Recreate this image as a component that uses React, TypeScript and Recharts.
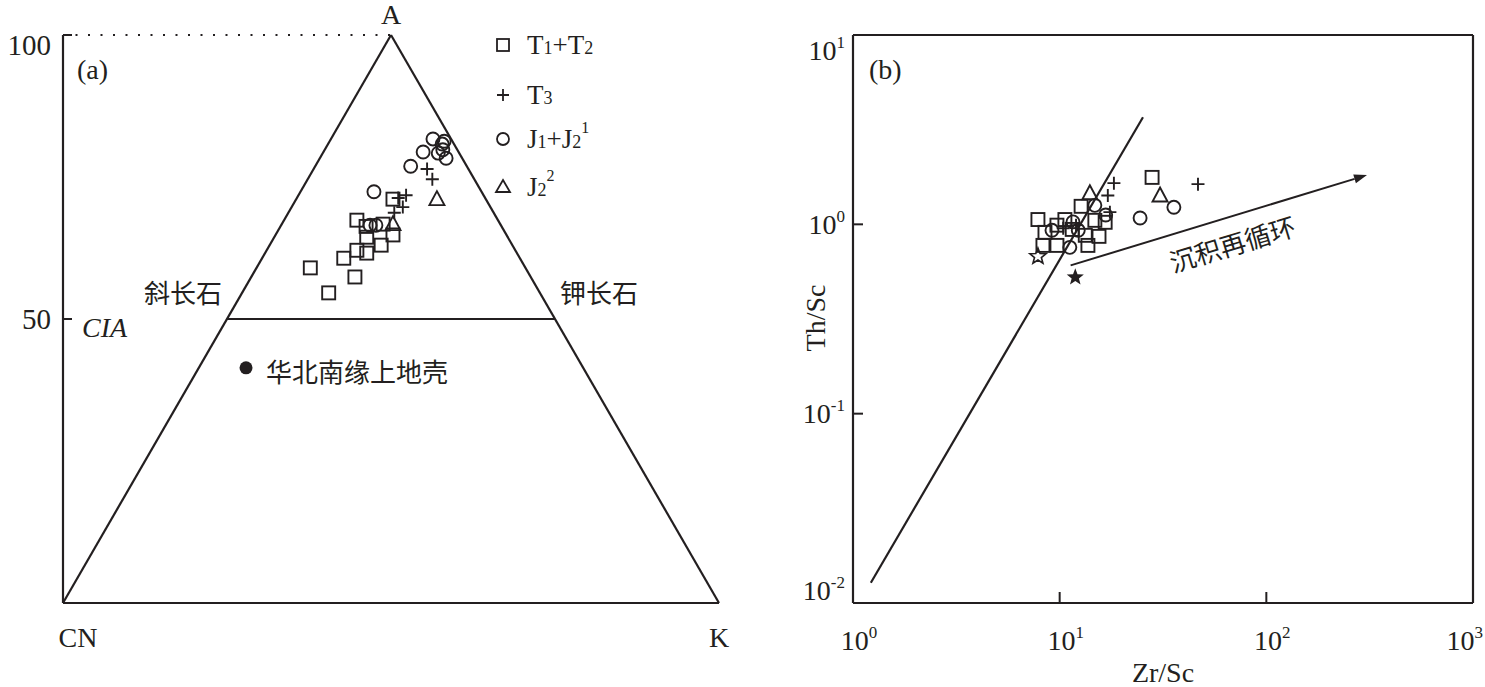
import React from "react";
import { ScatterChart, Scatter, XAxis, YAxis, ReferenceLine, Customized, Legend } from "recharts";

const INK = "#231f20";
const SERIF = '"Liberation Serif", "Times New Roman", serif';
const CJK = '"Noto Sans CJK SC", "Noto Sans CJK JP", sans-serif';

// ---- (a) A-CN-K diagram: x = position along the CN-K base (0..100), y = CIA
const corners = { CN: { x: 0, y: 0 }, A: { x: 50, y: 100 }, K: { x: 100, y: 0 } };
const feldsparJoin = [{ x: 25, y: 50 }, { x: 75, y: 50 }];
const ciaTicks = [50, 100];

const triT12 = [
  [37.7, 59.0], [40.5, 54.6], [44.5, 57.4], [42.8, 60.7], [44.8, 67.4], [46.2, 66.3], [46.3, 64.4],
  [48.5, 63.0], [48.8, 66.7], [50.3, 64.8], [44.8, 62.1], [46.3, 61.6], [50.3, 71.1],
];
const triT3 = [[55.5, 76.4], [56.3, 74.6], [52.3, 71.8], [51.1, 71.3], [51.8, 69.7], [50.5, 68.7]];
const triJ1J21 = [
  [47.4, 72.4], [53.0, 76.9], [54.9, 79.4], [56.4, 81.7], [57.2, 79.2], [57.8, 80.8], [58.1, 81.3],
  [58.4, 78.3], [57.9, 79.8], [46.8, 66.5], [47.7, 66.5],
];
const triJ22 = [[57.0, 71.1], [50.3, 66.7]];
const triUpperCrust = [[27.9, 41.4]];

// ---- (b) Th/Sc vs Zr/Sc
const zrTicks = [1, 10, 100, 1000];
const thTicks = [0.01, 0.1, 1, 10];

const thT12 = [
  [7.85, 1.06], [8.49, 0.907], [8.3, 0.774], [9.7, 0.774], [10.6, 1.06], [12.7, 1.245], [13.7, 0.774],
  [15.5, 0.864], [14.8, 1.05], [16.6, 1.025], [11.5, 0.94], [28.0, 1.77], [9.7, 0.99], [13.3, 0.875],
];
const thT3 = [[18.3, 1.65], [17.1, 1.42], [46.7, 1.63], [17.5, 1.16], [10.4, 0.953], [12.0, 0.99]];
const thJ1J21 = [[9.18, 0.93], [11.2, 0.756], [14.8, 1.26], [16.7, 1.12], [24.5, 1.08], [35.7, 1.23], [11.6, 1.03], [12.3, 0.93]];
const thJ22 = [[14.0, 1.46], [30.6, 1.42]];
const thOpenStar = [[7.85, 0.677]];
const thFilledStar = [[11.9, 0.525]];
const trendLine = [[1.22, 0.0128], [25.3, 3.68]];
const recycleArrow = [[11.3, 0.607], [307, 1.82]];

const pts = (a: number[][]) => a.map(([x, y]) => ({ x, y }));

// markers
const SW = 1.9;
const Square = ({ cx, cy }: any) => <rect x={cx - 6.5} y={cy - 6.5} width={13} height={13} fill="none" stroke={INK} strokeWidth={SW} />;
const Plus = ({ cx, cy }: any) => <path d={`M${cx - 6.5},${cy}H${cx + 6.5}M${cx},${cy - 6.5}V${cy + 6.5}`} stroke={INK} strokeWidth={SW} fill="none" />;
const Ring = ({ cx, cy }: any) => <circle cx={cx} cy={cy} r={6.5} fill="none" stroke={INK} strokeWidth={SW} />;
const Tri = ({ cx, cy }: any) => <path d={`M${cx},${cy - 8}L${cx + 7.5},${cy + 6}L${cx - 7.5},${cy + 6}Z`} fill="none" stroke={INK} strokeWidth={SW} />;
const Dot = ({ cx, cy }: any) => <circle cx={cx} cy={cy} r={6.5} fill={INK} />;

function starPath(cx: number, cy: number, R: number, r: number) {
  let d = "";
  for (let i = 0; i < 10; i++) {
    const rad = i % 2 === 0 ? R : r;
    const a = -Math.PI / 2 + (i * Math.PI) / 5;
    d += (i === 0 ? "M" : "L") + (cx + rad * Math.cos(a)).toFixed(2) + "," + (cy + rad * Math.sin(a)).toFixed(2);
  }
  return d + "Z";
}
const OpenStar = ({ cx, cy }: any) => <path d={starPath(cx, cy, 8.5, 3.6)} fill="none" stroke={INK} strokeWidth={1.6} />;
const FilledStar = ({ cx, cy }: any) => <path d={starPath(cx, cy, 9, 3.8)} fill={INK} />;

// ticks
function CiaTick({ x, y, payload }: any) {
  const v = payload.value;
  return (
    <g>
      <line x1={x} y1={y} x2={x + 9} y2={y} stroke={INK} strokeWidth={2} />
      <text x={x - 12} y={y + (v === 100 ? 10 : 0)} dy="0.35em" textAnchor="end" fontFamily={SERIF} fontSize={29} fill={INK}>{v}</text>
    </g>
  );
}

function ThTick({ x, y, payload }: any) {
  const e = Math.round(Math.log10(payload.value));
  const shift = e === 1 ? 15 : e === -2 ? -13 : 0;
  return (
    <g>
      {(e === 0 || e === -1) && <line x1={x} y1={y} x2={x + 10} y2={y} stroke={INK} strokeWidth={2} />}
      <text x={x - 8} y={y + shift} dy="0.35em" textAnchor="end" fontFamily={SERIF} fontSize={28} fill={INK}>
        10<tspan dy={-12} fontSize={17}>{e}</tspan>
      </text>
    </g>
  );
}

function ZrTick({ x, y, payload }: any) {
  const e = Math.round(Math.log10(payload.value));
  const last = e === 3;
  return (
    <g>
      {(e === 1 || e === 2) && <line x1={x} y1={y} x2={x} y2={y - 11} stroke={INK} strokeWidth={2} />}
      <text x={last ? x + 10 : x + 6} y={y + 47} textAnchor={last ? "end" : "middle"} fontFamily={SERIF} fontSize={28} fill={INK}>
        10<tspan dy={-12} fontSize={17}>{e}</tspan>
      </text>
    </g>
  );
}

function ArrowShape(p: any) {
  const { x1, y1, x2, y2 } = p;
  const dx = x2 - x1, dy = y2 - y1;
  const len = Math.hypot(dx, dy);
  const ux = dx / len, uy = dy / len;
  const hx = x2 - ux * 13, hy = y2 - uy * 13;
  const ang = (Math.atan2(dy, dx) * 180) / Math.PI;
  const t = 0.52;
  const tx = x1 + dx * t - uy * 28, ty = y1 + dy * t + ux * 28;
  return (
    <g>
      <line x1={x1} y1={y1} x2={hx} y2={hy} stroke={INK} strokeWidth={2} />
      <path d={`M${x2},${y2}L${hx - uy * 4.5},${hy + ux * 4.5}L${hx + uy * 4.5},${hy - ux * 4.5}Z`} fill={INK} />
      <text x={tx} y={ty} dy="0.35em" textAnchor="middle" fontFamily={CJK} fontSize={26} fill={INK} transform={`rotate(${ang} ${tx} ${ty})`}>沉积再循环</text>
    </g>
  );
}

const LegendBox = () => (
  <svg width={150} height={190} style={{ overflow: "visible" }}>
    <rect x={2} y={14} width={12} height={12} fill="none" stroke={INK} strokeWidth={1.8} />
    <text x={32} y={29} fontFamily={SERIF} fontSize={27} fill={INK}>
      T<tspan fontSize={18}>1</tspan>+T<tspan fontSize={18}>2</tspan>
    </text>
    <path d="M2,70H14M8,64V76" stroke={INK} strokeWidth={1.8} />
    <text x={32} y={79} fontFamily={SERIF} fontSize={27} fill={INK}>
      T<tspan fontSize={18}>3</tspan>
    </text>
    <circle cx={8} cy={114} r={6} fill="none" stroke={INK} strokeWidth={1.8} />
    <text x={32} y={123} fontFamily={SERIF} fontSize={27} fill={INK}>
      J<tspan fontSize={18}>1</tspan>+J<tspan fontSize={18}>2</tspan><tspan fontSize={16} dy={-15}>1</tspan>
    </text>
    <path d="M8,155L15,167L1,167Z" fill="none" stroke={INK} strokeWidth={1.8} />
    <text x={32} y={171} fontFamily={SERIF} fontSize={27} fill={INK}>
      J<tspan fontSize={18}>2</tspan><tspan fontSize={16} dy={-15}>2</tspan>
    </text>
  </svg>
);

const LeftLabels = () => (
  <g fill={INK}>
    <text x={391} y={24} textAnchor="middle" fontFamily={SERIF} fontSize={28}>A</text>
    <text x={77} y={79} fontFamily={SERIF} fontSize={28}>(a)</text>
    <text x={78} y={647} textAnchor="middle" fontFamily={SERIF} fontSize={28}>CN</text>
    <text x={719} y={647} textAnchor="middle" fontFamily={SERIF} fontSize={28}>K</text>
    <text x={82} y={337} fontFamily={SERIF} fontSize={28} fontStyle="italic">CIA</text>
    <text x={222} y={303} textAnchor="end" fontFamily={CJK} fontSize={26}>斜长石</text>
    <text x={560} y={303} fontFamily={CJK} fontSize={26}>钾长石</text>
    <text x={266} y={382} fontFamily={CJK} fontSize={26}>华北南缘上地壳</text>
  </g>
);

const RightLabels = () => (
  <g fill={INK}>
    <text x={109} y={79} fontFamily={SERIF} fontSize={28}>(b)</text>
    <text x={55} y={318} dy="0.35em" textAnchor="middle" fontFamily={SERIF} fontSize={28} transform="rotate(-90 55 318)">Th/Sc</text>
    <text x={403} y={682} textAnchor="middle" fontFamily={SERIF} fontSize={28}>Zr/Sc</text>
  </g>
);

const edge = { stroke: INK, strokeWidth: 2.2, ifOverflow: "visible" as const };

export default function App() {
  const { CN, A, K } = corners;
  return (
    <div style={{ position: "absolute", left: 0, top: 0, width: 1485, height: 687, background: "#fff", overflow: "hidden" }}>
      <div style={{ position: "absolute", left: 0, top: 0 }}>
        <ScatterChart width={740} height={687} margin={{ top: 35, right: 21, bottom: 84, left: 8 }}>
          <XAxis type="number" dataKey="x" domain={[0, 100]} hide />
          <YAxis type="number" dataKey="y" domain={[0, 100]} ticks={ciaTicks} interval={0} width={55}
            tickSize={0} tickMargin={0} tickLine={false} axisLine={{ stroke: INK, strokeWidth: 2.2 }} tick={<CiaTick />} />
          <ReferenceLine segment={[{ x: 0, y: 100 }, A]} stroke={INK} strokeWidth={2} strokeDasharray="2 10.5" ifOverflow="visible" />
          <ReferenceLine segment={[CN, A]} {...edge} />
          <ReferenceLine segment={[A, K]} {...edge} />
          <ReferenceLine segment={[CN, K]} {...edge} />
          <ReferenceLine segment={feldsparJoin} {...edge} />
          <Scatter data={pts(triT12)} shape={Square} isAnimationActive={false} />
          <Scatter data={pts(triT3)} shape={Plus} isAnimationActive={false} />
          <Scatter data={pts(triJ1J21)} shape={Ring} isAnimationActive={false} />
          <Scatter data={pts(triJ22)} shape={Tri} isAnimationActive={false} />
          <Scatter data={pts(triUpperCrust)} shape={Dot} isAnimationActive={false} />
          <Legend layout="horizontal" verticalAlign="middle" align="center" content={() => <LegendBox />}
            wrapperStyle={{ left: 495, top: 25, width: 150, height: 190 }} />
          <Customized component={<LeftLabels />} />
        </ScatterChart>
      </div>
      <div style={{ position: "absolute", left: 760, top: 0 }}>
        <ScatterChart width={725} height={687} margin={{ top: 35, right: 12, bottom: 34, left: 13 }}>
          <XAxis type="number" dataKey="x" scale="log" domain={[1, 1000]} ticks={zrTicks} interval={0} height={50} allowDataOverflow
            tickSize={0} tickMargin={0} tickLine={false} axisLine={{ stroke: INK, strokeWidth: 2.2 }} tick={<ZrTick />} />
          <YAxis type="number" dataKey="y" scale="log" domain={[0.01, 10]} ticks={thTicks} interval={0} width={80} allowDataOverflow
            tickSize={0} tickMargin={0} tickLine={false} axisLine={{ stroke: INK, strokeWidth: 2.2 }} tick={<ThTick />} />
          <ReferenceLine y={10} {...edge} />
          <ReferenceLine x={1000} {...edge} />
          <ReferenceLine segment={pts(trendLine)} {...edge} />
          <ReferenceLine segment={pts(recycleArrow)} ifOverflow="visible" shape={ArrowShape} />
          <Scatter data={pts(thT12)} shape={Square} isAnimationActive={false} />
          <Scatter data={pts(thT3)} shape={Plus} isAnimationActive={false} />
          <Scatter data={pts(thJ1J21)} shape={Ring} isAnimationActive={false} />
          <Scatter data={pts(thJ22)} shape={Tri} isAnimationActive={false} />
          <Scatter data={pts(thOpenStar)} shape={OpenStar} isAnimationActive={false} />
          <Scatter data={pts(thFilledStar)} shape={FilledStar} isAnimationActive={false} />
          <Customized component={<RightLabels />} />
        </ScatterChart>
      </div>
    </div>
  );
}
